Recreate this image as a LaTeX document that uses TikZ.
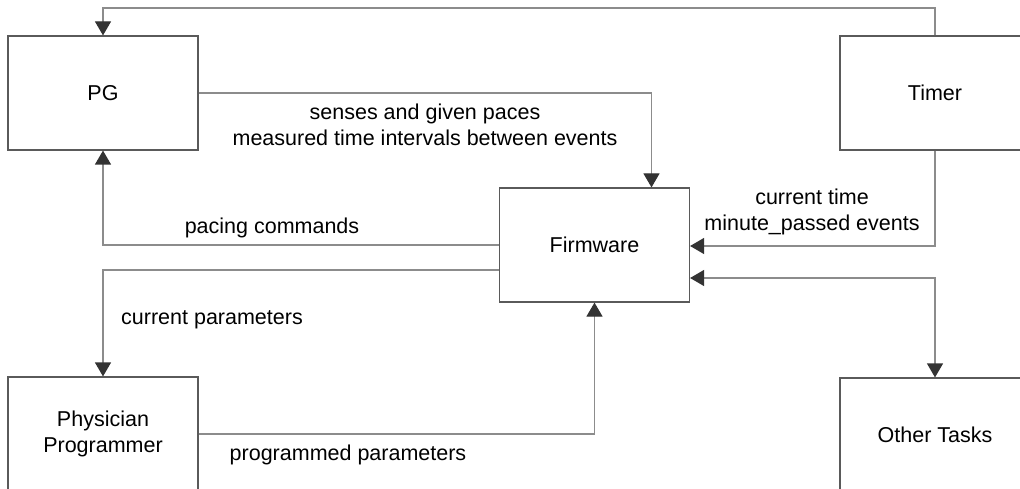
\documentclass[tikz,border=0pt]{standalone}
\usepackage{fontspec}
\setmainfont{Liberation Sans}
\usetikzlibrary{arrows.meta}
\definecolor{boxc}{HTML}{5A5A5A}
\definecolor{linec}{HTML}{8C8C8C}
\definecolor{tipc}{HTML}{333333}
\begin{document}
\begin{tikzpicture}[x=1pt,y=-1pt,
  every node/.style={font=\fontsize{21.5}{26}\selectfont, text=black},
  blk/.style={draw=boxc, line width=1.2pt, rectangle, minimum width=190pt, minimum height=114pt, inner sep=0pt, align=center},
  lbl/.style={align=center, inner sep=0pt},
  conn/.style={draw=linec, line width=1.2pt, -{Triangle[length=14pt,width=16pt,color=tipc]}},
  conn2/.style={draw=linec, line width=1.2pt, {Triangle[length=14pt,width=16pt,color=tipc]}-{Triangle[length=14pt,width=16pt,color=tipc]}}
]
\useasboundingbox (0,0) rectangle (1020,489);
\fill[white] (0,0) rectangle (1020,489);
\clip (0,0) rectangle (1020,489);

\node[blk] (pg) at (103,93) {PG};
\node[blk] (timer) at (935,93) {Timer};
\node[blk] (fw) at (594.5,245) {Firmware};
\node[blk] (pp) at (103,434) {\raisebox{-3pt}{\parbox{190pt}{\centering Physician\\Programmer}}};
\node[blk] (ot) at (935,435) {Other Tasks};

\coordinate (topline) at (0,8);

\draw[conn] (timer.north) |- (topline -| pg.north) -- (pg.north);
\draw[conn] (pg.east) -| ([xshift=57pt]fw.north);
\draw[conn] (fw.west) -| (pg.south);
\draw[conn] ([yshift=-25pt]fw.west) -| (pp.north);
\draw[conn] (pp.east) -| (fw.south);
\draw[conn] (timer.south) |- ([yshift=-1pt]fw.east);
\draw[conn2] ([yshift=-33pt]fw.east) -| (ot.north);

\node[lbl] (l1) at (425,125) {senses and given paces\\measured time intervals between events};
\node[lbl] (l2) at (272,228) {pacing commands};
\node[lbl] (l3) at (812,212) {current time\\minute\_passed events};
\node[lbl] (l4) at (212,320) {current parameters};
\node[lbl] (l5) at (348,455) {programmed parameters};
\end{tikzpicture}
\end{document}
